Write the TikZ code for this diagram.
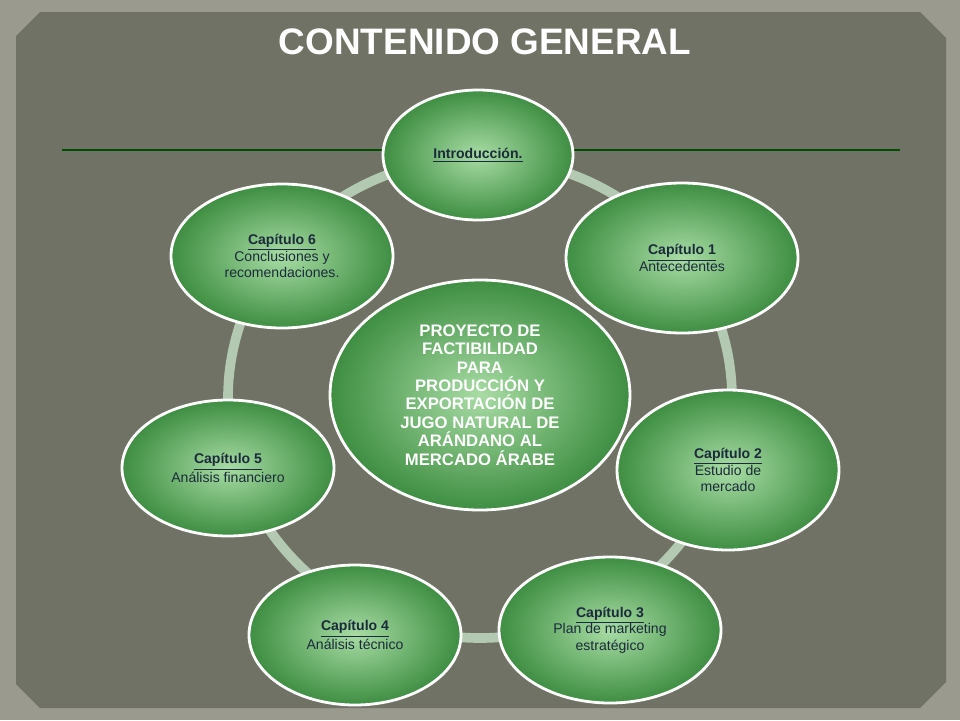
\documentclass[tikz,border=0pt]{standalone}
\usepackage{fontspec}
\setmainfont{Liberation Sans}
\usetikzlibrary{shapes.geometric, positioning}
\definecolor{frame}{HTML}{9A9B8E}
\definecolor{panel}{HTML}{6F7264}
\definecolor{ring}{HTML}{B4C9B2}
\definecolor{ink}{HTML}{1B2B3B}
\definecolor{capin}{HTML}{A8DCA4}
\definecolor{capout}{HTML}{3E8E42}
\begin{document}
\begin{tikzpicture}[x=0.02cm,y=-0.02cm,font=\fontsize{8pt}{9.5pt}\selectfont]

	\tikzset{node cap/.style={ellipse, draw=white, line width=1.6pt,
			inner color=capin, outer color=capout,
			text=ink, align=center, minimum width=#1}}
	\tikzset{node hub/.style={node cap=300*0.02cm, minimum height=230*0.02cm,
			text=white, font=\fontsize{9.5pt}{10.5pt}\selectfont\bfseries}}

	\fill[frame] (0,0) rectangle (960,720);
	\fill[panel] (40,12) -- (920,12) -- (946,38) -- (946,682) -- (920,708)
		-- (40,708) -- (16,684) -- (16,36) -- cycle;
	\draw[green!30!black, line width=0.8pt] (62,150) -- (900,150);

	\node[font=\fontsize{21pt}{24pt}\selectfont\bfseries, text=white] (title) at (485,42) {CONTENIDO GENERAL};

	\draw[ring, line width=5.5pt] (480,398) ellipse [x radius=252, y radius=240];

	\node[node hub] (hub) at (480,395)
		{PROYECTO DE\\FACTIBILIDAD\\PARA\\PRODUCCIÓN Y\\EXPORTACIÓN DE\\JUGO NATURAL DE\\ARÁNDANO AL\\MERCADO ÁRABE};

	\node[node cap=190*0.02cm, minimum height=130*0.02cm] (intro) at (478,155)
		{\textbf{\underline{Introducción.}}};
	\node[node cap=232*0.02cm, minimum height=150*0.02cm] (cap1) at (682,258)
		{\textbf{\underline{Capítulo 1}}\\Antecedentes};
	\node[node cap=222*0.02cm, minimum height=160*0.02cm] (cap2) at (728,470)
		{\textbf{\underline{Capítulo 2}}\\Estudio de\\mercado};
	\node[node cap=222*0.02cm, minimum height=146*0.02cm] (cap3) at (610,630)
		{\textbf{\underline{Capítulo 3}}\\Plan de marketing\\estratégico};
	\node[node cap=212*0.02cm, minimum height=140*0.02cm] (cap4) at (355,635)
		{\textbf{\underline{Capítulo 4}}\\Análisis técnico};
	\node[node cap=212*0.02cm, minimum height=136*0.02cm] (cap5) at (228,468)
		{\textbf{\underline{Capítulo 5}}\\Análisis financiero};
	\node[node cap=222*0.02cm, minimum height=144*0.02cm] (cap6) at (282,256)
		{\textbf{\underline{Capítulo 6}}\\Conclusiones y\\recomendaciones.};

\end{tikzpicture}
\end{document}
